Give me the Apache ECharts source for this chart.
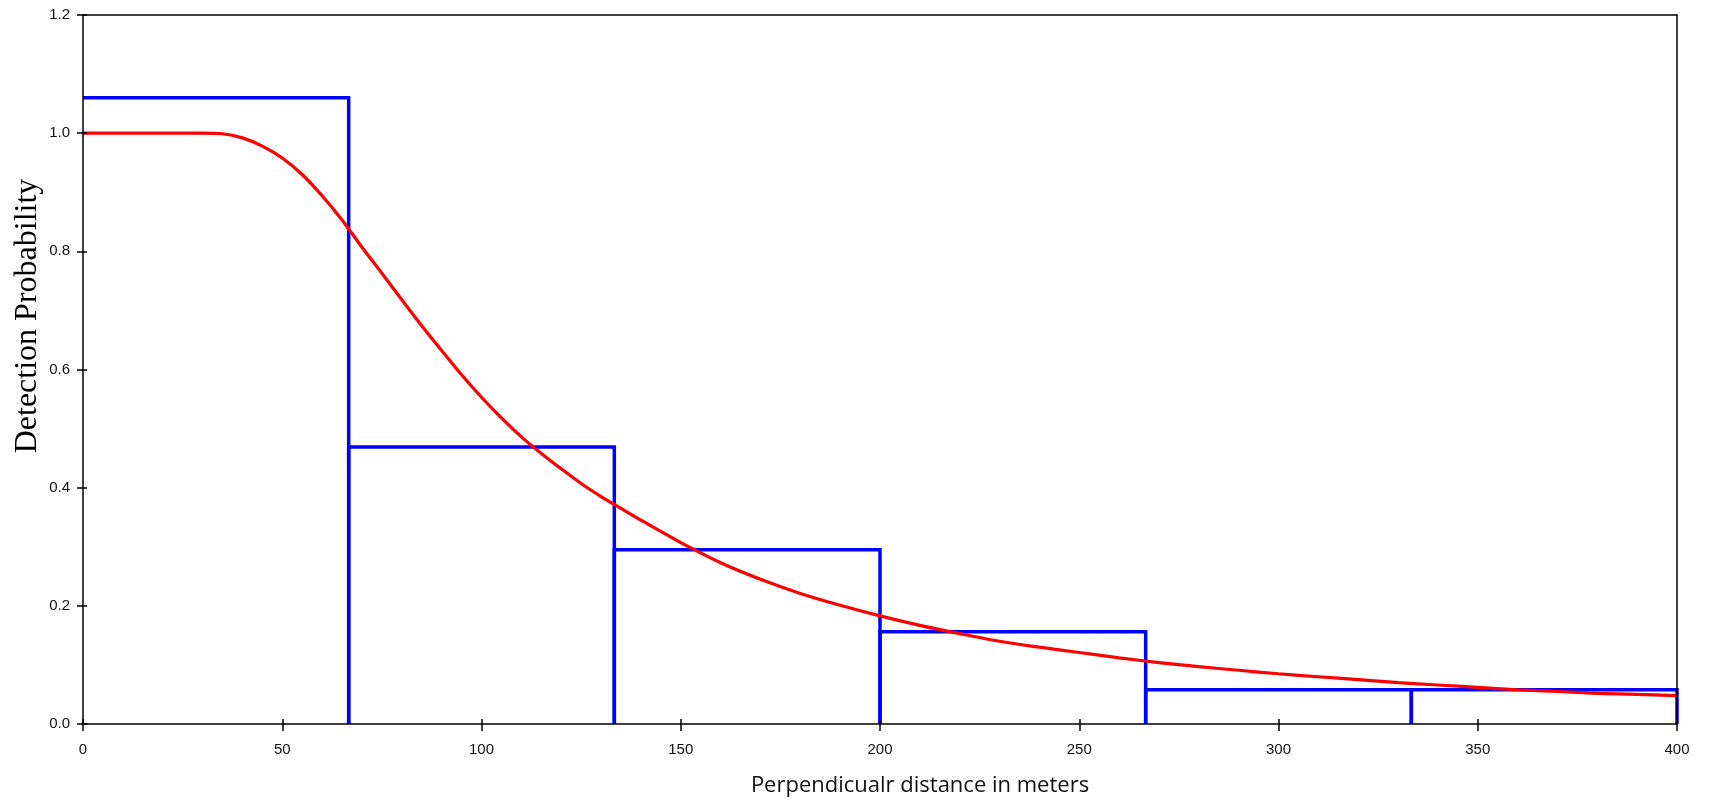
<!DOCTYPE html>
<html>
<head>
<meta charset="utf-8">
<script src="https://cdn.jsdelivr.net/npm/echarts@6/dist/echarts.min.js"></script>
<style>
html,body{margin:0;padding:0;background:#fff;}
#chart{width:1712px;height:804px;}
</style>
</head>
<body>
<div id="chart"></div>
<script>
// Histogram bins (perpendicular distance, m) and scaled bar heights
const binEdges = [0, 66.67, 133.33, 200, 266.67, 333.33, 400];
const binHeights = [1.06, 0.469, 0.295, 0.156, 0.058, 0.058];

// Fitted detection function
const curveX = [0, 10, 20, 30, 35, 40, 45, 50, 55, 60, 65, 70, 75, 80, 85, 90, 95, 100, 105, 110, 115, 120, 125, 130, 135, 140, 145, 150, 160, 170, 180, 190, 200, 210, 220, 230, 240, 250, 260, 270, 280, 290, 300, 310, 320, 330, 340, 350, 360, 370, 380, 390, 400];
const curveY = [1.0, 1.0, 1.0, 1.0, 0.999, 0.992, 0.978, 0.958, 0.930, 0.894, 0.853, 0.807, 0.763, 0.718, 0.674, 0.632, 0.591, 0.553, 0.518, 0.486, 0.458, 0.432, 0.407, 0.385, 0.365, 0.345, 0.326, 0.307, 0.273, 0.245, 0.221, 0.201, 0.183, 0.167, 0.153, 0.140, 0.130, 0.121, 0.112, 0.104, 0.097, 0.091, 0.085, 0.080, 0.075, 0.070, 0.066, 0.062, 0.058, 0.055, 0.052, 0.050, 0.048];

const xAxisTitle = 'Perpendicualr distance in meters';
const yAxisTitle = 'Detection Probability';

const histData = binHeights.map((h, i) => [binEdges[i], binEdges[i + 1], h]);
const curveData = curveX.map((x, i) => [x, curveY[i]]);

const chart = echarts.init(document.getElementById('chart'), null, {renderer: 'canvas'});
const labelFont = {fontFamily: 'Liberation Sans, Arial, sans-serif', fontSize: 15, color: '#111'};
const blackLine = {color: '#000', width: 1.5};

const option = {
  animation: false,
  backgroundColor: '#fff',
  grid: {left: 83, right: 35, top: 15, bottom: 80},
  xAxis: [
    {
      type: 'value', min: 0, max: 400, interval: 50, position: 'bottom', z: 10,
      axisLine: {show: true, onZero: false, lineStyle: blackLine},
      axisTick: {show: true, inside: false, length: 7, lineStyle: blackLine},
      axisLabel: Object.assign({margin: 18}, labelFont),
      splitLine: {show: false}
    },
    {
      type: 'value', min: 0, max: 400, interval: 50, position: 'bottom', z: 10,
      axisLine: {show: false, onZero: false},
      axisTick: {show: true, inside: true, length: 5, lineStyle: blackLine},
      axisLabel: {show: false},
      splitLine: {show: false}
    },
    {
      type: 'value', min: 0, max: 400, position: 'top', z: 10,
      axisLine: {show: true, onZero: false, lineStyle: blackLine},
      axisTick: {show: false}, axisLabel: {show: false}, splitLine: {show: false}
    }
  ],
  yAxis: [
    {
      type: 'value', min: 0, max: 1.2, interval: 0.2, position: 'left', z: 10,
      axisLine: {show: true, onZero: false, lineStyle: blackLine},
      axisTick: {show: true, inside: false, length: 6, lineStyle: blackLine},
      axisLabel: Object.assign({margin: 13, formatter: v => v.toFixed(1)}, labelFont),
      splitLine: {show: false}
    },
    {
      type: 'value', min: 0, max: 1.2, interval: 0.2, position: 'left', z: 10,
      axisLine: {show: false, onZero: false},
      axisTick: {show: true, inside: true, length: 4, lineStyle: blackLine},
      axisLabel: {show: false},
      splitLine: {show: false}
    },
    {
      type: 'value', min: 0, max: 1.2, position: 'right', z: 10,
      axisLine: {show: true, onZero: false, lineStyle: blackLine},
      axisTick: {show: false}, axisLabel: {show: false}, splitLine: {show: false}
    }
  ],
  graphic: [
    {
      type: 'text', x: 920, y: 786,
      style: {text: xAxisTitle, font: '22px "Open Sans", sans-serif', fill: '#111', textAlign: 'center', textVerticalAlign: 'middle'}
    },
    {
      type: 'text', x: 28, y: 316, rotation: Math.PI / 2,
      style: {text: yAxisTitle, font: '32px "Liberation Serif", "Times New Roman", serif', fill: '#000', textAlign: 'center', textVerticalAlign: 'middle'}
    }
  ],
  series: [
    {
      type: 'custom',
      xAxisIndex: 0, yAxisIndex: 0,
      data: histData,
      encode: {x: [0, 1], y: 2},
      z: 2,
      renderItem: function (params, api) {
        const a = api.coord([api.value(0), 0]);
        const b = api.coord([api.value(0), api.value(2)]);
        const c = api.coord([api.value(1), api.value(2)]);
        const d = api.coord([api.value(1), 0]);
        const pts = params.dataIndex === 0 ? [b, c, d] : [a, b, c, d];
        return {
          type: 'polyline',
          shape: {points: pts},
          style: {fill: null, stroke: '#0000ff', lineWidth: 3.5, lineJoin: 'miter'}
        };
      }
    },
    {
      type: 'line',
      xAxisIndex: 0, yAxisIndex: 0,
      data: curveData,
      showSymbol: false,
      smooth: 0.3,
      z: 3,
      lineStyle: {color: '#ff0000', width: 3.2}
    }
  ]
};
chart.setOption(option);
</script>
</body>
</html>
